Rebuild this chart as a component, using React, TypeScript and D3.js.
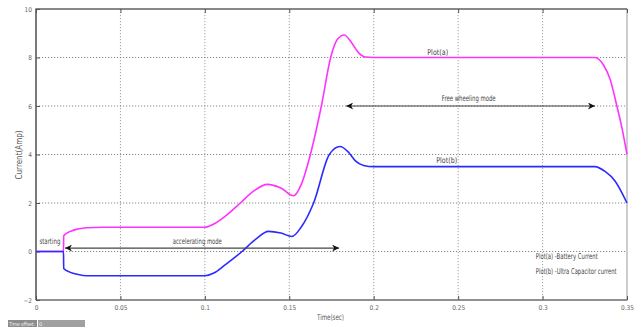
import React, { useEffect, useRef } from 'react';
import * as d3 from 'd3';

// Plot(a) battery current (magenta) and Plot(b) ultra capacitor current (blue)
const plotA: [number, number][] = [
  [0, 0], [0.0163, 0], [0.0164, 0.65], [0.02, 0.82], [0.025, 0.93], [0.03, 0.98], [0.04, 1.0],
  [0.1, 1.0], [0.105, 1.12], [0.112, 1.45], [0.121, 2.0], [0.129, 2.5], [0.137, 2.77],
  [0.145, 2.62], [0.1525, 2.3], [0.157, 2.75], [0.1625, 4.0], [0.169, 6.0], [0.1745, 8.0],
  [0.1785, 8.75], [0.1825, 8.93], [0.187, 8.6], [0.191, 8.2], [0.195, 8.02], [0.2, 8.0],
  [0.331, 8.0], [0.336, 7.7], [0.34, 7.1], [0.344, 6.0], [0.347, 5.1], [0.35, 4.0],
];

const plotB: [number, number][] = [
  [0, 0], [0.0163, 0], [0.0164, -0.7], [0.02, -0.85], [0.025, -0.95], [0.03, -1.0], [0.04, -1.0],
  [0.1, -1.0], [0.105, -0.9], [0.112, -0.55], [0.122, 0], [0.13, 0.5], [0.1377, 0.83],
  [0.145, 0.76], [0.1515, 0.62], [0.157, 1.0], [0.1644, 2.0], [0.1737, 4.0], [0.18, 4.33],
  [0.185, 4.1], [0.189, 3.75], [0.194, 3.55], [0.2, 3.5],
  [0.331, 3.5], [0.337, 3.3], [0.343, 2.9], [0.35, 2.0],
];

const xTicks = [0, 0.05, 0.1, 0.15, 0.2, 0.25, 0.3, 0.35];
const xTickLabels = ['0', '0.05', '0.1', '0.15', '0.2', '0.25', '0.3', '0.35'];
const yTicks = [-2, 0, 2, 4, 6, 8, 10];

// mode arrows: [t start, t end, value]
const modeArrows: [number, number, number][] = [
  [0.0172, 0.1795, 0.14],
  [0.1837, 0.331, 6.0],
];

// text notes: [label, t, value]
const notes: [string, number, number][] = [
  ['starting', 0.002, 0.3],
  ['accelerating mode', 0.081, 0.3],
  ['Free wheeling mode', 0.2403, 6.2],
  ['Plot(a)', 0.2317, 8.12],
  ['Plot(b)', 0.237, 3.67],
  ['Plot(a) -Battery Current', 0.296, -0.3],
  ['Plot(b) -Ultra Capacitor current', 0.296, -0.93],
];

// the original uses a narrow face; squeeze the fallback to the same widths
const noteWidths: Record<string, number> = {
  'starting': 21,
  'accelerating mode': 49,
  'Free wheeling mode': 54,
  'Plot(a)': 21,
  'Plot(b)': 21,
  'Plot(a) -Battery Current': 62,
  'Plot(b) -Ultra Capacitor current': 81,
};

const FONT = '"DejaVu Sans Condensed", "Liberation Sans", sans-serif';

// horizontally squeeze a text node to a given width
function squeeze(sel: d3.Selection<SVGTextElement, any, any, any>, px: number, py: number, w: number) {
  const node = sel.node();
  const natural = node ? node.getComputedTextLength() : w;
  const k = natural > 0 ? Math.min(1, w / natural) : 1;
  sel.attr('x', 0).attr('y', 0).attr('transform', `translate(${px},${py}) scale(${k},1)`);
}

export default function App() {
  const svgRef = useRef<SVGSVGElement | null>(null);

  useEffect(() => {
    document.body.style.margin = '0';
    const W = 635;
    const H = 327;
    const margin = { top: 9, right: 8, bottom: 27, left: 36 };
    const svg = d3.select(svgRef.current).attr('width', W).attr('height', H);
    svg.selectAll('*').remove();

    svg.append('rect').attr('width', W).attr('height', H).attr('fill', '#fff');

    const x = d3.scaleLinear().domain([0, 0.35]).range([margin.left, W - margin.right]);
    const y = d3.scaleLinear().domain([-2, 10]).range([H - margin.bottom, margin.top]);

    const defs = svg.append('defs');
    defs.append('marker')
      .attr('id', 'ahead')
      .attr('viewBox', '0 0 10 10')
      .attr('refX', 10)
      .attr('refY', 5)
      .attr('markerWidth', 8)
      .attr('markerHeight', 7)
      .attr('markerUnits', 'userSpaceOnUse')
      .attr('orient', 'auto-start-reverse')
      .append('path')
      .attr('d', 'M0,0 L10,5 L0,10 L3,5 Z')
      .attr('fill', '#111');

    // grid
    const grid = svg.append('g');
    grid.selectAll('line.gx')
      .data(xTicks.slice(1, -1))
      .join('line')
      .attr('x1', (d) => x(d)).attr('x2', (d) => x(d))
      .attr('y1', y(10)).attr('y2', y(-2))
      .attr('stroke', '#8a8a8a').attr('stroke-width', 0.8).attr('stroke-dasharray', '1.2,1.8');
    grid.selectAll('line.gy')
      .data(yTicks.slice(1, -1))
      .join('line')
      .attr('x1', x(0)).attr('x2', x(0.35))
      .attr('y1', (d) => y(d)).attr('y2', (d) => y(d))
      .attr('stroke', '#6a6a6a').attr('stroke-width', 0.8).attr('stroke-dasharray', '1.2,1.8');

    // frame
    svg.append('rect')
      .attr('x', x(0)).attr('y', y(10))
      .attr('width', x(0.35) - x(0)).attr('height', y(-2) - y(10))
      .attr('fill', 'none').attr('stroke', '#9a9a9a').attr('stroke-width', 1);
    svg.append('path')
      .attr('d', `M${x(0)},${y(-2)} V${y(10)} H${x(0.35)}`)
      .attr('fill', 'none').attr('stroke', '#444').attr('stroke-width', 1.2);
    svg.append('line')
      .attr('x1', x(0)).attr('x2', x(0.35)).attr('y1', y(-2)).attr('y2', y(-2))
      .attr('stroke', '#555').attr('stroke-width', 1);

    // axes
    const xAxis = svg.append('g')
      .attr('transform', `translate(0,${y(-2)})`)
      .call(d3.axisBottom(x).tickValues(xTicks).tickSize(-4).tickPadding(5)
        .tickFormat((_d, i) => xTickLabels[i]));
    xAxis.select('.domain').remove();
    xAxis.selectAll('line').attr('stroke', '#555');
    xAxis.selectAll('text').attr('fill', '#666').attr('font-size', 6.5).attr('font-family', FONT);

    const yAxis = svg.append('g')
      .attr('transform', `translate(${x(0)},0)`)
      .call(d3.axisLeft(y).tickValues(yTicks).tickSize(-4).tickPadding(4).tickFormat(d3.format('d')));
    yAxis.select('.domain').remove();
    yAxis.selectAll('line').attr('stroke', '#555');
    yAxis.selectAll('text').attr('fill', '#666').attr('font-size', 6.5).attr('font-family', FONT);

    const topTicks = svg.append('g')
      .attr('transform', `translate(0,${y(10)})`)
      .call(d3.axisTop(x).tickValues(xTicks).tickSize(-4).tickFormat(() => ''));
    topTicks.select('.domain').remove();
    topTicks.selectAll('line').attr('stroke', '#555');

    // axis labels
    const tLabel = svg.append('text')
      .attr('font-size', 8).attr('font-family', FONT)
      .attr('fill', '#555').text('Time(sec)');
    squeeze(tLabel, 317, H - 7, 27);
    svg.append('g')
      .attr('transform', `translate(22,${y(4)}) rotate(-90)`)
      .call((g) => {
        const t = g.append('text').attr('font-size', 8).attr('font-family', FONT)
          .attr('fill', '#555').text('Current(Amp)');
        squeeze(t, -25, 0, 50);
      });

    // series
    const line = d3.line<[number, number]>()
      .x((d) => x(d[0])).y((d) => y(d[1]))
      .curve(d3.curveMonotoneX);
    svg.append('path').attr('d', line(plotA)).attr('fill', 'none')
      .attr('stroke', '#ff33ff').attr('stroke-width', 1.6);
    svg.append('path').attr('d', line(plotB)).attr('fill', 'none')
      .attr('stroke', '#2b2bff').attr('stroke-width', 1.6);

    // mode arrows
    svg.selectAll('line.arrow')
      .data(modeArrows)
      .join('line')
      .attr('x1', (d) => x(d[0])).attr('x2', (d) => x(d[1]))
      .attr('y1', (d) => y(d[2])).attr('y2', (d) => y(d[2]))
      .attr('stroke', '#444').attr('stroke-width', 1.1)
      .attr('marker-start', 'url(#ahead)').attr('marker-end', 'url(#ahead)');

    // notes
    notes.forEach(([label, t, v]) => {
      const txt = svg.append('text')
        .attr('font-size', 8).attr('font-family', FONT).attr('fill', '#444')
        .text(label);
      squeeze(txt, x(t), y(v), noteWidths[label]);
    });

    // time offset box
    svg.append('rect').attr('x', 8).attr('y', 320).attr('width', 29).attr('height', 7).attr('fill', '#8c8c8c');
    svg.append('rect').attr('x', 38).attr('y', 320).attr('width', 47).attr('height', 7).attr('fill', '#a0a0a0');
    const off = svg.append('text').attr('font-size', 5.5).attr('font-family', FONT)
      .attr('fill', '#eee').text('Time offset:');
    squeeze(off, 9, 326, 26);
    svg.append('text').attr('x', 39).attr('y', 326).attr('font-size', 5.5).attr('font-family', FONT)
      .attr('fill', '#eee').text('0');
  }, []);

  return <svg ref={svgRef} style={{ display: 'block' }} />;
}
